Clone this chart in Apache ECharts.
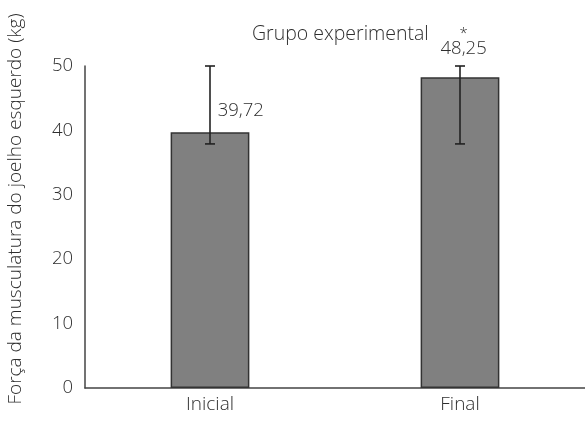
<!DOCTYPE html>
<html><head><meta charset="utf-8">
<script src="https://cdn.jsdelivr.net/npm/echarts@6/dist/echarts.min.js"></script>
<style>html,body{margin:0;padding:0;background:#fff}#c{width:585px;height:421px}</style>
</head><body><div id="c"></div>
<script>
const categories = ['Inicial', 'Final'];
const means = [39.72, 48.25];
const errLow = [37.9, 37.9];
const errHigh = [50, 50];
const valueLabels = ['39,72', '48,25'];
const marks = ['', '*'];
const yTicks = [0, 10, 20, 30, 40, 50];
const titleText = 'Grupo experimental';
const yName = 'Força da musculatura do joelho esquerdo (kg)';

const FONT = 'Open Sans';
const TXT = '#2e2e2e';
const chart = echarts.init(document.getElementById('c'), null, {renderer: 'canvas'});

const labelCfg = [
  {show: true, position: [47, -21], verticalAlign: 'middle', align: 'left'},
  {show: true, position: [43, -34], verticalAlign: 'middle', align: 'center', lineHeight: 20}
];

chart.setOption({
  animation: false,
  backgroundColor: '#fff',
  title: {
    text: titleText, left: 247, top: 19,
    textStyle: {fontFamily: FONT, fontWeight: 300, fontSize: 19.5, color: TXT}
  },
  grid: {left: 85, right: 0, top: 66, bottom: 33, containLabel: false},
  xAxis: {
    type: 'category', data: categories,
    axisLine: {lineStyle: {color: '#444', width: 1.5}},
    axisTick: {show: false},
    axisLabel: {fontFamily: FONT, fontWeight: 300, fontSize: 19, color: TXT, margin: 7}
  },
  yAxis: {
    type: 'value', min: yTicks[0], max: yTicks[yTicks.length - 1], interval: 10,
    axisLine: {show: true, lineStyle: {color: '#444', width: 1.5}},
    axisTick: {show: false},
    splitLine: {show: false},
    axisLabel: {fontFamily: FONT, fontWeight: 300, fontSize: 18.5, color: TXT, margin: 12}
  },
  graphic: [{
    type: 'text', x: 16, y: 209, rotation: Math.PI / 2,
    style: {text: yName, fontFamily: FONT, fontWeight: 300, fontSize: 19, fill: TXT,
            align: 'center', verticalAlign: 'middle'}
  }],
  series: [
    {
      type: 'bar', barWidth: '31.5%',
      itemStyle: {color: '#808080', borderColor: '#333', borderWidth: 1.5},
      data: means.map((v, i) => ({
        value: v,
        label: Object.assign({
          formatter: () => marks[i] ? '{s|' + marks[i] + '}\n' + valueLabels[i] : valueLabels[i],
          fontFamily: FONT, fontWeight: 300, fontSize: 18.5, color: TXT,
          rich: {s: {fontFamily: FONT, fontSize: 15, color: TXT, lineHeight: 10}}
        }, labelCfg[i])
      }))
    },
    {
      type: 'custom', z: 10,
      data: categories.map((c, i) => [i, errLow[i], errHigh[i]]),
      renderItem: function (params, api) {
        const lo = api.coord([api.value(0), api.value(1)]);
        const hi = api.coord([api.value(0), api.value(2)]);
        const w = 5;
        const st = {stroke: '#222', lineWidth: 1.6};
        return {type: 'group', children: [
          {type: 'line', shape: {x1: hi[0], y1: hi[1], x2: lo[0], y2: lo[1]}, style: st},
          {type: 'line', shape: {x1: hi[0] - w, y1: hi[1], x2: hi[0] + w, y2: hi[1]}, style: st},
          {type: 'line', shape: {x1: lo[0] - w, y1: lo[1], x2: lo[0] + w, y2: lo[1]}, style: st}
        ]};
      }
    }
  ]
});
</script></body></html>
